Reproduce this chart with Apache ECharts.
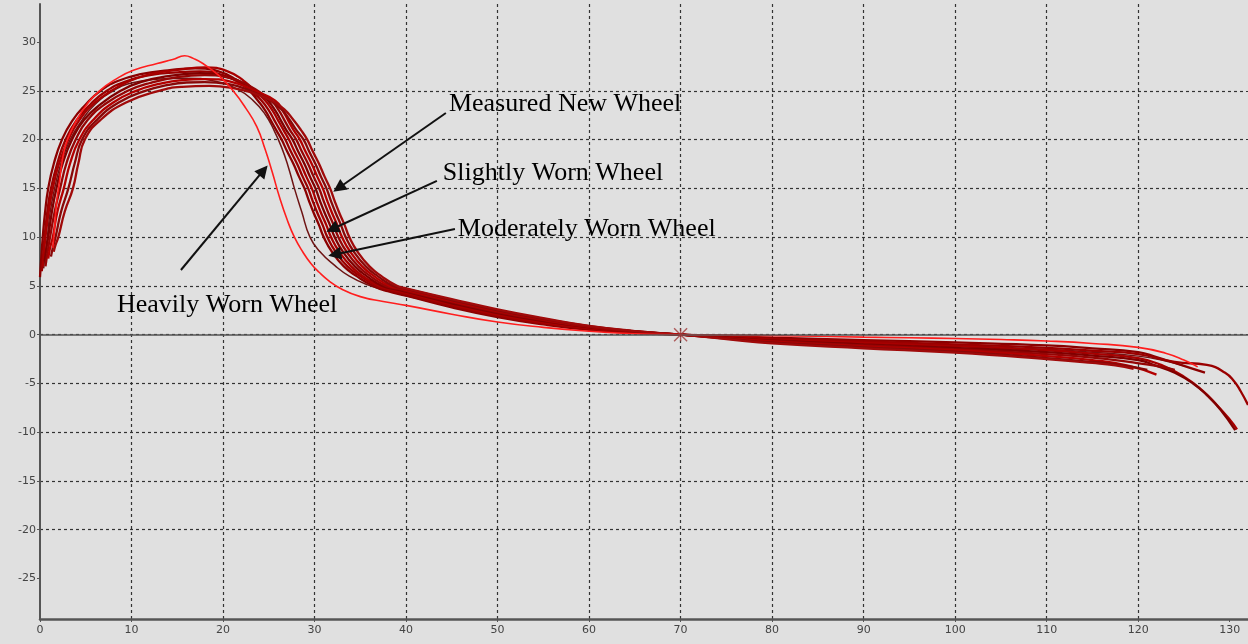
<!DOCTYPE html>
<html>
<head>
<meta charset="utf-8">
<script src="https://cdn.jsdelivr.net/npm/echarts@6/dist/echarts.min.js"></script>
<style>html,body{margin:0;padding:0;background:#e0e0e0;}#c{width:1248px;height:644px;}</style>
</head>
<body>
<div id="c"></div>
<script>
// ---- Data: wheel profiles [x, y] ----
const heavilyWorn = [[1.4,8.9],[1.6,11],[1.8,13.5],[2.1,15.5],[2.5,18.2],[3.0,20.0],[4.0,22.0],[5.2,23.7],[6.5,25.0],[8.3,26.2],[10.2,27.1],[12.8,27.8],[14.5,28.2],[15.8,28.6],[16.8,28.3],[17.8,27.8],[19.5,26.6],[21.1,25.0],[22.5,23.2],[23.7,21.3],[24.6,19.0],[25.4,16.6],[26.2,14.0],[27.0,11.8],[27.8,10.0],[28.7,8.5],[29.6,7.3],[30.5,6.4],[31.6,5.5],[32.9,4.7],[35,3.9],[37.5,3.4],[40,3.0],[45,2.1],[50,1.3],[55,0.75],[60,0.35],[65,0.1],[70,0],[75,-0.05],[80,-0.1],[85,-0.17],[90,-0.25],[95,-0.32],[100,-0.4],[105,-0.5],[110,-0.65],[115,-0.9],[120,-1.3],[123,-1.9],[125,-2.6],[126.5,-3.3]];
const moderatelyWorn = [[0.4,6.8],[0.6,8.5],[0.8,10],[1.1,12.5],[1.6,15],[2.3,17.6],[3.3,20],[4.6,22],[6.0,23.6],[8.0,25.0],[10,25.8],[13,26.2],[16,26.3],[19,26.0],[21.5,25.2],[23.3,24.0],[24.6,22.6],[25.6,20.9],[26.4,19.2],[27.1,17.3],[27.8,15.0],[28.6,12.6],[29.5,10.0],[30.6,8.5],[32.2,7.1],[33.8,6.0],[35.8,5.1],[38,4.5],[40,4.0],[45,2.9],[50,2.0],[55,1.25],[60,0.65],[65,0.25],[70,0],[75,-0.2],[80,-0.45],[90,-0.8],[100,-1.1],[110,-1.5],[115,-1.8],[120,-2.2],[123,-2.7],[125,-3.2]];
const profile1 = [[0.0,5.9],[0.15,8],[0.3,10],[0.55,12.5],[0.9,15],[1.5,17.5],[2.4,20],[3.5,21.9],[5,23.6],[6.6,25],[8.5,26],[11,26.7],[14,27.1],[17,27.3],[19.5,27.0],[21.5,26.1],[22.8,25.1],[23.8,24],[24.6,23],[25.2,22],[25.8,21],[26.4,20],[27.0,18.8],[27.7,17.5],[28.3,16.2],[28.9,15],[29.4,13.7],[29.9,12.5],[30.5,11.2],[31.0,10],[31.9,8.5],[33.2,7.0],[34.6,6.0],[36.4,5.0],[38,4.45],[40,4.0],[45,2.8],[50,1.8],[55,1.05],[60,0.5],[65,0.18],[70,0],[75,-0.15],[80,-0.3],[90,-0.55],[100,-0.8],[110,-1.1],[115,-1.4],[120,-1.8],[122,-2.3],[124,-2.9],[126,-3.5],[127.3,-3.9]];
const profile2 = [[0.2,6.5],[0.35,8.2],[0.5,10],[0.8,12.6],[1.2,15],[1.9,17.6],[2.8,20],[4,22],[5.5,23.6],[7.3,25],[9.5,26],[12,26.6],[15,26.9],[17.5,27],[20,26.6],[22,25.7],[23.3,24.8],[24.2,24],[25.0,23],[25.6,22],[26.2,21],[26.8,20],[27.4,18.8],[28.1,17.5],[28.7,16.2],[29.3,15],[29.8,13.7],[30.3,12.5],[30.9,11.2],[31.4,10],[32.3,8.5],[33.6,7.0],[35.0,6.0],[36.8,5.0],[38.4,4.5],[40,4.15],[45,2.95],[50,1.92],[55,1.15],[60,0.6],[65,0.22],[70,0],[75,-0.2],[80,-0.4],[90,-0.7],[100,-1.0],[110,-1.35],[115,-1.65],[120,-2.0],[124,-2.8],[127.5,-3.1],[129.5,-3.9],[130.5,-4.8],[131.2,-5.8],[132,-7.2]];
const profile3 = [[0.3,7.0],[0.45,8.6],[0.6,10],[0.95,12.6],[1.4,15],[2.1,17.6],[3.1,20],[4.3,22],[5.9,23.7],[7.8,25],[10,26.1],[12.5,26.8],[15.5,27.2],[18,27.4],[20.5,27.0],[22.3,26.0],[23.6,24.9],[24.6,24],[25.4,23],[26.0,22],[26.6,21],[27.2,20],[27.8,18.8],[28.5,17.5],[29.1,16.2],[29.7,15],[30.2,13.7],[30.7,12.5],[31.3,11.2],[31.8,10],[32.7,8.5],[34.0,7.0],[35.3,6.0],[37.1,5.0],[38.6,4.6],[40,4.3],[45,3.1],[50,2.05],[55,1.25],[60,0.68],[65,0.26],[70,0],[75,-0.25],[80,-0.5],[90,-0.85],[100,-1.2],[110,-1.6],[115,-1.95],[120,-2.4],[122.5,-3.1],[125,-4.3],[127,-5.7],[128.5,-7.1],[130,-8.7],[130.8,-9.7]];
const profile4 = [[0.5,7.5],[0.7,8.8],[0.9,10],[1.3,12.6],[1.8,15],[2.5,17.6],[3.5,20],[4.8,22],[6.6,23.6],[8.8,25],[11,25.9],[14,26.5],[17.5,26.8],[20.5,26.4],[22.6,25.6],[24.0,24.7],[24.9,24],[25.7,23],[26.3,22],[26.9,21],[27.6,20],[28.2,18.8],[28.9,17.5],[29.5,16.2],[30.1,15],[30.6,13.7],[31.1,12.5],[31.7,11.2],[32.2,10],[33.1,8.5],[34.4,7.0],[35.7,6.0],[37.4,5.0],[38.9,4.65],[40,4.4],[45,3.22],[50,2.2],[55,1.38],[60,0.75],[65,0.3],[70,0],[75,-0.3],[80,-0.6],[90,-1.0],[100,-1.35],[110,-1.8],[115,-2.15],[120,-2.6],[122,-3.2],[124,-3.9],[126,-5.0],[127.5,-6.2],[129,-7.7],[130.6,-9.8]];
const profile5 = [[0.6,7.0],[0.85,8.6],[1.1,10],[1.6,12.6],[2.2,15],[2.9,17.6],[3.9,20],[5.2,22],[7.2,23.7],[9.6,25],[12,25.8],[15,26.4],[18,26.6],[20.8,26.3],[22.9,25.5],[24.4,24.6],[25.3,24],[26.1,23],[26.7,22],[27.3,21],[28.0,20],[28.6,18.8],[29.3,17.5],[29.9,16.2],[30.5,15],[31.0,13.7],[31.5,12.5],[32.1,11.2],[32.6,10],[33.5,8.5],[34.8,7.0],[36.1,6.0],[37.8,5.0],[39.2,4.7],[40,4.5],[45,3.35],[50,2.32],[55,1.48],[60,0.8],[65,0.32],[70,0],[75,-0.32],[80,-0.65],[90,-1.1],[100,-1.5],[110,-2.0],[115,-2.35],[119,-2.8],[122,-3.2],[124,-3.6]];
const profile6 = [[0.9,7.8],[1.1,8.9],[1.4,10],[1.9,12.6],[2.6,15],[3.3,17.6],[4.3,20],[5.8,22],[8,23.8],[10.5,25],[13,25.7],[15.5,26.1],[18,26.2],[21,25.9],[23.5,25.0],[25.7,24],[26.5,23],[27.1,22],[27.7,21],[28.4,20],[29.0,18.8],[29.7,17.5],[30.3,16.2],[30.9,15],[31.4,13.7],[31.9,12.5],[32.5,11.2],[33.0,10],[33.9,8.5],[35.2,7.0],[36.5,6.0],[38.2,5.0],[39.4,4.75],[40,4.6],[45,3.45],[50,2.42],[55,1.55],[60,0.83],[65,0.33],[70,0],[75,-0.36],[80,-0.72],[90,-1.2],[100,-1.6],[110,-2.2],[115,-2.6],[119,-3.2],[122,-4.1]];
const profile7 = [[1.2,8.0],[1.4,8.9],[1.7,10],[2.3,12.6],[3.1,15],[3.8,17.6],[4.6,20],[6.2,22],[8.6,23.8],[11.5,25],[14,25.6],[16,25.85],[18,25.9],[20.5,25.7],[23,25.0],[25,24.1],[26.4,23.1],[27.3,22],[28.0,21],[28.8,20],[29.4,18.8],[30.1,17.5],[30.7,16.2],[31.3,15],[31.8,13.7],[32.3,12.5],[32.9,11.2],[33.4,10],[34.3,8.5],[35.6,7.0],[36.9,6.0],[38.6,5.0],[40,4.7],[45,3.55],[50,2.5],[55,1.62],[60,0.87],[65,0.35],[70,0],[75,-0.4],[80,-0.8],[90,-1.3],[100,-1.75],[110,-2.4],[115,-2.8],[118,-3.1],[121,-3.6]];
const profile8 = [[1.5,8.5],[1.7,9.2],[2.0,10],[2.7,12.6],[3.6,15],[4.2,17.6],[4.9,20],[6.6,22],[9.4,23.8],[13,25],[15.5,25.4],[18.5,25.5],[21,25.3],[23.2,24.8],[25.3,24.0],[26.7,23.1],[27.7,22],[28.5,21],[29.2,20],[29.8,18.8],[30.5,17.5],[31.1,16.2],[31.7,15],[32.2,13.7],[32.7,12.5],[33.3,11.2],[33.8,10],[34.7,8.5],[36.0,7.0],[37.3,6.0],[39.0,5.0],[40,4.75],[45,3.65],[50,2.6],[55,1.7],[60,0.9],[65,0.37],[70,0],[75,-0.45],[80,-0.9],[90,-1.4],[100,-1.85],[110,-2.5],[115,-2.9],[117.5,-3.15],[119.5,-3.5]];

const crossPoint = [[70, 0]];

// tick values
const xTickValues = [0, 10, 20, 30, 40, 50, 60, 70, 80, 90, 100, 110, 120, 130];
const yTickValues = [-25, -20, -15, -10, -5, 0, 5, 10, 15, 20, 25, 30];

// annotation texts: [x, y, text]
const labelTexts = [
  [44.68, 23.65, 'Measured New Wheel'],
  [44.02, 16.58, 'Slightly Worn Wheel'],
  [45.66, 10.84, 'Moderately Worn Wheel'],
  [8.41, 3.04, 'Heavily Worn Wheel']
];
// arrows: [[fromX, fromY], [toX, toY]]
const arrowLines = [
  [[44.35, 22.73], [32.63, 15.04]],
  [[43.37, 15.76], [31.94, 10.83]],
  [[45.34, 10.84], [32.20, 8.22]],
  [[15.40, 6.63], [24.42, 16.84]]
];

const darkProfiles = [profile1, profile2, profile3, profile4, profile5, profile6, profile7, profile8];
const darkColors = ['#8b0000', '#9a0000', '#a80000', '#800000', '#950505', '#b30000', '#880808', '#a00a0a'];

const chart = echarts.init(document.getElementById('c'), null, {renderer: 'canvas'});

const series = [];
series.push({
  type: 'line', name: 'moderate', data: moderatelyWorn, showSymbol: false, symbol: 'none',
  smooth: 0.5, lineStyle: {color: '#6e1414', width: 1.5}, z: 3
});
darkProfiles.forEach((d, i) => series.push({
  type: 'line', name: 'p' + i, data: d, showSymbol: false, symbol: 'none',
  smooth: 0.5, lineStyle: {color: darkColors[i], width: 2.3}, z: 3
}));
series.push({
  type: 'line', name: 'heavy', data: heavilyWorn, showSymbol: false, symbol: 'none',
  smooth: 0.5, lineStyle: {color: '#ff1e1e', width: 1.6}, z: 4
});
series.push({
  type: 'scatter', name: 'cross', data: crossPoint,
  symbol: 'path://M0,0L10,10M10,0L0,10M5,0L5,10', symbolSize: 13,
  itemStyle: {color: 'none', borderColor: '#a03a3a', borderWidth: 1.4}, z: 5, silent: true
});
series.push({
  type: 'scatter', name: 'labels', data: labelTexts, symbolSize: 0, silent: true, z: 10,
  itemStyle: {opacity: 1},
  label: {show: true, position: 'right', distance: 0, formatter: p => p.value[2],
    fontFamily: '"Liberation Serif", "Times New Roman", serif', fontSize: 26, color: '#000',
    textBorderWidth: 0, opacity: 1}
});
series.push({
  type: 'line', name: 'refs', data: [], silent: true, z: 2,
  markLine: {
    silent: true, animation: false, symbol: ['none', 'none'],
    label: {show: false},
    lineStyle: {color: '#555', width: 1.5, type: 'solid'},
    data: [{yAxis: 0}]
  }
});
series.push({
  type: 'line', name: 'arrows', data: [], silent: true, z: 10,
  markLine: {
    silent: true, animation: false,
    symbol: ['none', 'triangle'], symbolSize: 13,
    label: {show: false},
    lineStyle: {color: '#111', width: 2, type: 'solid'},
    itemStyle: {color: '#111'},
    data: arrowLines.map(a => [{coord: a[0]}, {coord: a[1]}])
  }
});

const axisLabelStyle = {color: '#444', fontSize: 11, fontFamily: '"DejaVu Sans", sans-serif'};

chart.setOption({
  animation: false,
  backgroundColor: '#e0e0e0',
  grid: {left: 40, right: 0, top: 4, bottom: 25, containLabel: false},
  xAxis: {
    type: 'value', min: 0, max: 132, minInterval: 10, maxInterval: 10, splitNumber: 13,
    axisLine: {show: true, onZero: false, lineStyle: {color: '#555', width: 2.5}},
    axisTick: {show: true, length: 3, customValues: xTickValues, lineStyle: {color: '#555', width: 1}},
    axisLabel: Object.assign({margin: 6, customValues: xTickValues}, axisLabelStyle),
    splitLine: {show: true, showMinLine: false, showMaxLine: false, lineStyle: {color: '#333', type: [3, 3], width: 1.2}}
  },
  yAxis: {
    type: 'value', min: -29.15, max: 33.9, minInterval: 5, maxInterval: 5, splitNumber: 13,
    axisLine: {show: true, onZero: false, lineStyle: {color: '#555', width: 2}},
    axisTick: {show: true, length: 3, customValues: yTickValues, lineStyle: {color: '#555', width: 1}},
    axisLabel: Object.assign({margin: 4, customValues: yTickValues}, axisLabelStyle),
    splitLine: {show: true, showMinLine: false, showMaxLine: false, lineStyle: {color: '#333', type: [3, 3], width: 1.2}}
  },
  series: series
});
</script>
</body>
</html>
